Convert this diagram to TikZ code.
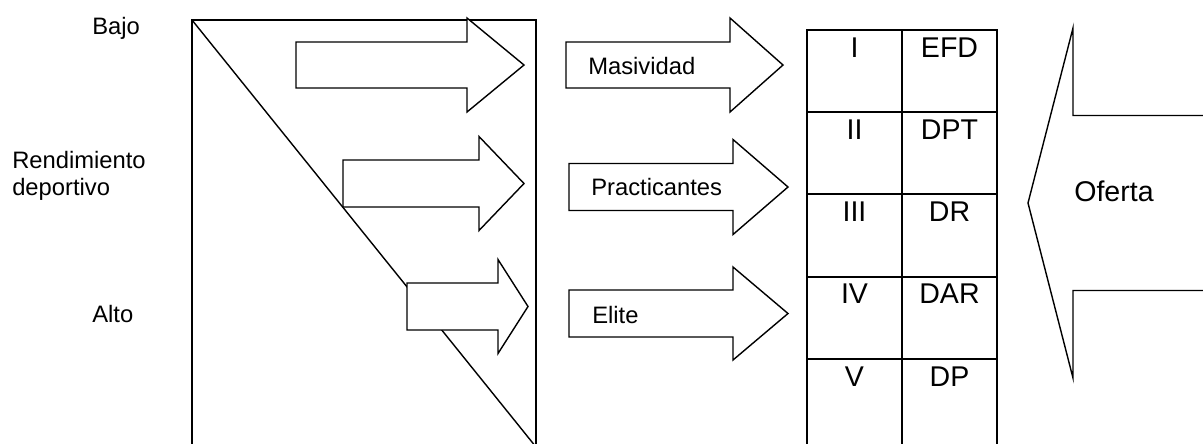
\documentclass[tikz,border=0pt]{standalone}
\usepackage{fontspec}
\setmainfont{Liberation Sans}
\newcommand{\blockarrow}[6]{%
  \draw[blk] (#1,{#4-#5}) -- (#2,{#4-#5}) -- (#2,{#4-#6}) -- (#3,#4)
    -- (#2,{#4+#6}) -- (#2,{#4+#5}) -- (#1,{#4+#5}) -- cycle;}
\begin{document}
\begin{tikzpicture}[x=0.025cm, y=-0.025cm, line join=miter,
  blk/.style={draw, fill=white, line width=1pt},
  grid/.style={draw, line width=1.5pt},
  small/.style={font=\fontsize{16.9}{19}\selectfont, inner sep=0, anchor=base west},
  big/.style={font=\fontsize{20.3}{24}\selectfont, inner sep=0}]
  \useasboundingbox (0,0) rectangle (1203,443);
  \clip (0,0) rectangle (1203,443);
  \node[small] (bajo) at (92,34) {Bajo};
  \node[small, align=left] (rend) at (12,195) {Rendimiento\\deportivo};
  \node[small] (alto) at (92,322) {Alto};
  \draw[line width=1pt] (192,20) rectangle (536,460);
  \draw[line width=1pt] (192,20) -- (536,447);
  \blockarrow{296}{467}{524}{65}{23}{47}
  \blockarrow{343}{479}{524}{183.5}{23.5}{47}
  \blockarrow{407}{498}{528}{306.5}{23.5}{47}
  \blockarrow{566}{730}{783}{65}{23}{47}
  \blockarrow{569}{733}{788}{187}{23.5}{47.5}
  \blockarrow{569}{733}{788}{313.5}{23.5}{46.5}
  \node[small] (masiv) at (588,74) {Masividad};
  \node[small] (pract) at (591,195) {Practicantes};
  \node[small] (elite) at (592,323) {Elite};
  \draw[grid] (807,30) rectangle (997,460);
  \draw[grid] (902,30) -- (902,460);
  \foreach \y in {112,194,277,359}
    \draw[grid] (807,\y) -- (997,\y);
  \foreach \r/\c [count=\i] in {I/EFD, II/DPT, III/DR, IV/DAR, V/DP} {
    \node[big, anchor=base] (rom\i) at (854.5,{30+(\i-1)*82.25+27}) {\r};
    \node[big, anchor=base] (code\i) at (949.5,{30+(\i-1)*82.25+27}) {\c};
  }
  \blockarrow{1215}{1073}{1028}{203}{87.5}{175}
  \node[big, anchor=base west] (oferta) at (1074,201) {Oferta};
\end{tikzpicture}
\end{document}
